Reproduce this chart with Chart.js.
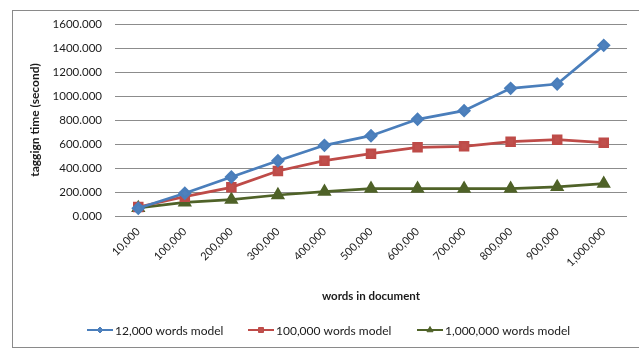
<!DOCTYPE html>
<html>
<head>
<meta charset="utf-8">
<script src="https://cdn.jsdelivr.net/npm/chart.js@4/dist/chart.umd.min.js"></script>
<style>
  html, body { margin: 0; padding: 0; background: #fff; }
  #wrap { width: 639px; height: 348px; position: relative; }
</style>
</head>
<body>
<div id="wrap"><canvas id="c" width="639" height="348"></canvas></div>
<script>
// Document sizes (words) on the category axis
const categories = ['10,000', '100,000', '200,000', '300,000', '400,000', '500,000',
                    '600,000', '700,000', '800,000', '900,000', '1,000,000'];

// Tagging time in seconds for each model size
const model12k  = [65, 190, 325, 460, 589, 669, 806, 878, 1064, 1100, 1422];
const model100k = [75, 161, 239, 375, 461, 519, 572, 581, 619, 636, 611];
const model1m   = [67, 114, 136, 175, 203, 228, 228, 228, 228, 242, 269];

const seriesNames = ['12,000 words model', '100,000 words model', '1,000,000 words model'];

const FONT = 'Lato, "Open Sans", sans-serif';

// Outer chart frame
const framePlugin = {
  id: 'frame',
  beforeDraw(chart) {
    const ctx = chart.ctx;
    ctx.save();
    ctx.fillStyle = '#fff';
    ctx.fillRect(0, 0, chart.width, chart.height);
    ctx.strokeStyle = '#8a8a8a';
    ctx.lineWidth = 1;
    ctx.strokeRect(12.5, 10.5, 640, 337);
    ctx.restore();
  }
};

// Legend drawn as a line segment with the series marker in its middle
const lineLegendPlugin = {
  id: 'lineLegend',
  afterDraw(chart) {
    const ctx = chart.ctx;
    const starts = [87, 248, 417];
    const y = 330;
    ctx.save();
    ctx.font = '12px ' + FONT;
    ctx.textBaseline = 'middle';
    chart.data.datasets.forEach((ds, i) => {
      const x0 = starts[i];
      ctx.strokeStyle = ds.borderColor;
      ctx.lineWidth = 2;
      ctx.beginPath();
      ctx.moveTo(x0, y);
      ctx.lineTo(x0 + 26, y);
      ctx.stroke();
      ctx.fillStyle = ds.pointBackgroundColor;
      ctx.strokeStyle = ds.pointBorderColor;
      ctx.lineWidth = 1;
      Chart.helpers.drawPoint(ctx, {
        pointStyle: ds.pointStyle,
        radius: ds.pointRadius - 2,
        rotation: 0,
        borderWidth: 1
      }, x0 + 13, y);
      ctx.fillStyle = '#1a1a1a';
      ctx.fillText(ds.label, x0 + 28, y + 1);
    });
    ctx.restore();
  }
};

const colors = {
  blue:  { line: '#4A7EBB', fill: '#4F81BD' },
  red:   { line: '#BE4B48', fill: '#C0504D' },
  green: { line: '#4F6228', fill: '#4F6228' }
};

new Chart(document.getElementById('c'), {
  type: 'line',
  data: {
    labels: categories,
    datasets: [
      {
        label: seriesNames[0], data: model12k,
        borderColor: colors.blue.line, backgroundColor: colors.blue.fill,
        pointBackgroundColor: colors.blue.fill, pointBorderColor: colors.blue.line,
        pointStyle: 'rectRot', pointRadius: 5, borderWidth: 2.75, tension: 0
      },
      {
        label: seriesNames[1], data: model100k,
        borderColor: colors.red.line, backgroundColor: colors.red.fill,
        pointBackgroundColor: colors.red.fill, pointBorderColor: colors.red.line,
        pointStyle: 'rect', pointRadius: 5.5, borderWidth: 2.75, tension: 0
      },
      {
        label: seriesNames[2], data: model1m,
        borderColor: colors.green.line, backgroundColor: colors.green.fill,
        pointBackgroundColor: colors.green.fill, pointBorderColor: colors.green.line,
        pointStyle: 'triangle', pointRadius: 5.5, borderWidth: 2.75, tension: 0
      }
    ]
  },
  options: {
    responsive: false,
    animation: false,
    devicePixelRatio: 1,
    layout: { padding: { left: 28, right: 12, top: 24, bottom: 45 } },
    plugins: {
      legend: { display: false },
      tooltip: { enabled: false }
    },
    scales: {
      x: {
        offset: true,
        grid: { display: false, drawTicks: false },
        border: { display: false },
        ticks: {
          maxRotation: 45, minRotation: 45, padding: 9,
          color: '#1a1a1a', font: { family: FONT, size: 11 }
        },
        title: {
          display: true, text: 'words in document',
          color: '#1a1a1a', font: { family: FONT, size: 11.5, weight: 'bold' },
          padding: { top: 0, bottom: 0 }
        },
        afterFit(scale) { scale.height = 87; }
      },
      y: {
        min: 0, max: 1600,
        grid: { color: '#8c8c8c', lineWidth: 1, drawTicks: false },
        border: { display: false },
        ticks: {
          stepSize: 200, padding: 13,
          color: '#1a1a1a', font: { family: FONT, size: 11.5 },
          callback: v => v.toFixed(3)
        },
        title: {
          display: true, text: 'taggign time (second)',
          color: '#1a1a1a', font: { family: FONT, size: 12, weight: 'bold' },
          padding: { top: 0, bottom: 0 }
        },
        afterFit(scale) { scale.width = 87; }
      }
    }
  },
  plugins: [framePlugin, lineLegendPlugin]
});
</script>
</body>
</html>
